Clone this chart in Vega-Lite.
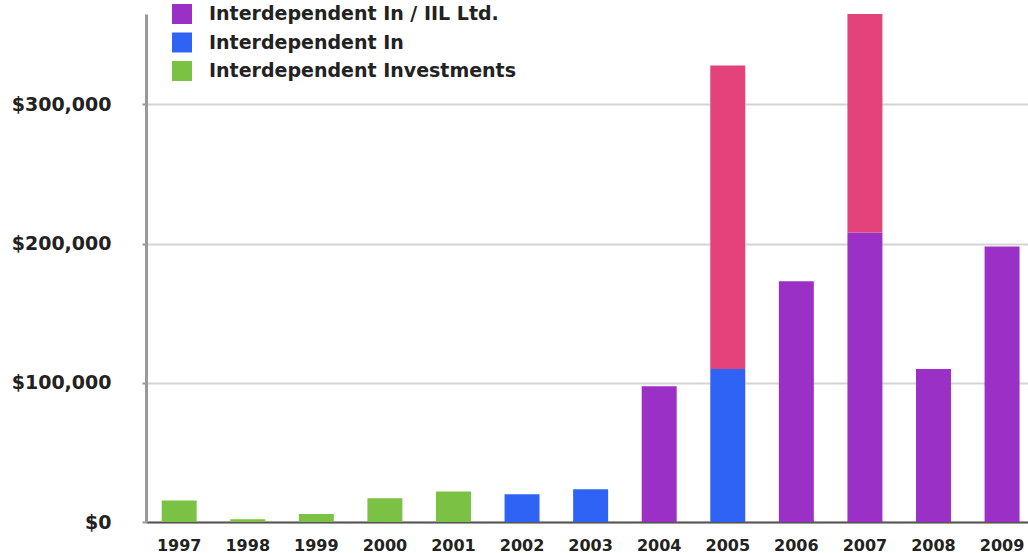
{
  "$schema": "https://vega.github.io/schema/vega-lite/v6.json",
  "width": 882,
  "height": 508,
  "autosize": {"type": "none"},
  "padding": {"left": 146, "top": 14, "right": 0, "bottom": 31},
  "background": "white",
  "config": {"view": {"stroke": null}, "font": "DejaVu Sans"},
  "data": {
    "values": [
      {"year": "1997", "series": "Interdependent Investments", "value": 15500, "ord": 1},
      {"year": "1998", "series": "Interdependent Investments", "value": 2000, "ord": 1},
      {"year": "1999", "series": "Interdependent Investments", "value": 5700, "ord": 1},
      {"year": "2000", "series": "Interdependent Investments", "value": 17000, "ord": 1},
      {"year": "2001", "series": "Interdependent Investments", "value": 22000, "ord": 1},
      {"year": "2002", "series": "Interdependent In", "value": 20000, "ord": 1},
      {"year": "2003", "series": "Interdependent In", "value": 23500, "ord": 1},
      {"year": "2004", "series": "Interdependent In / IIL Ltd.", "value": 97500, "ord": 1},
      {"year": "2005", "series": "Interdependent In", "value": 110000, "ord": 1},
      {"year": "2005", "series": "IIL Ltd.", "value": 218000, "ord": 2},
      {"year": "2006", "series": "Interdependent In / IIL Ltd.", "value": 173000, "ord": 1},
      {"year": "2007", "series": "Interdependent In / IIL Ltd.", "value": 208000, "ord": 1},
      {"year": "2007", "series": "IIL Ltd.", "value": 170000, "ord": 2},
      {"year": "2008", "series": "Interdependent In / IIL Ltd.", "value": 110000, "ord": 1},
      {"year": "2009", "series": "Interdependent In / IIL Ltd.", "value": 198000, "ord": 1}
    ]
  },
  "mark": {"type": "bar", "clip": true},
  "encoding": {
    "x": {
      "field": "year",
      "type": "ordinal",
      "sort": null,
      "scale": {"paddingInner": 0.49, "paddingOuter": 0.176, "align": 0.65},
      "axis": {
        "title": null,
        "labelAngle": 0,
        "labelFont": "DejaVu Sans",
        "labelFontWeight": "bold",
        "labelFontSize": 16,
        "labelColor": "#222222",
        "labelPadding": 15,
        "ticks": false,
        "domainColor": "#555555",
        "domainWidth": 2,
        "grid": false
      }
    },
    "y": {
      "field": "value",
      "type": "quantitative",
      "stack": "zero",
      "scale": {"domain": [0, 365000], "nice": false},
      "axis": {
        "title": null,
        "values": [0, 100000, 200000, 300000],
        "format": "$,.0f",
        "labelFont": "DejaVu Sans",
        "labelFontWeight": "bold",
        "labelFontSize": 19,
        "labelColor": "#222222",
        "labelPadding": 31,
        "tickSize": 4,
        "tickColor": "#999999",
        "tickWidth": 2,
        "domainColor": "#999999",
        "domainWidth": 3,
        "gridColor": "#d4d4d4",
        "gridWidth": 2
      }
    },
    "color": {
      "field": "series",
      "type": "nominal",
      "scale": {
        "domain": ["IIL Ltd.", "Interdependent In / IIL Ltd.", "Interdependent In", "Interdependent Investments"],
        "range": ["#e3427a", "#9b30c6", "#2e63f5", "#7bc143"]
      },
      "legend": {
        "title": null,
        "values": ["Interdependent In / IIL Ltd.", "Interdependent In", "Interdependent Investments"],
        "orient": "none",
        "legendX": 26,
        "legendY": -10,
        "padding": 0,
        "symbolType": "square",
        "symbolSize": 400,
        "symbolStrokeWidth": 0,
        "symbolOpacity": 1,
        "rowPadding": 8.5,
        "labelOffset": 17,
        "labelFont": "DejaVu Sans",
        "labelFontWeight": "bold",
        "labelFontSize": 19,
        "labelColor": "#222222",
        "labelLimit": 500
      }
    },
    "order": {"field": "ord"}
  }
}
